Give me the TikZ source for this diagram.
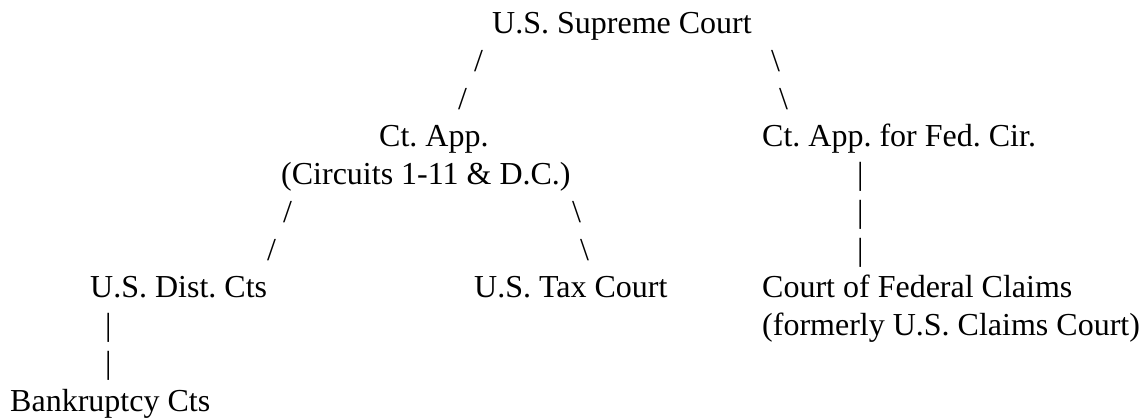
\documentclass[tikz,border=0pt]{standalone}
\usepackage{fontspec}
\setmainfont{Liberation Serif}
\frenchspacing
\begin{document}
\begin{tikzpicture}[x=1pt,y=1pt,
  txt/.style={anchor=base west,inner sep=0pt,font=\fontsize{32}{37.6}\selectfont}]
\useasboundingbox[fill=white] (0,0) rectangle (1143,-418);
% row 1
\node[txt] (sc) at (492,-33) {U.S. Supreme Court};
% rows 2-3
\node[txt] (l2) at (474,-71) {/};
\node[txt] (r2) at (771,-71) {\textbackslash};
\node[txt] (l3) at (458,-109) {/};
\node[txt] (r3) at (779,-109) {\textbackslash};
% rows 4-5
\node[txt] (ca) at (379,-146) {Ct. App.};
\node[txt] (cab) at (281,-184) {(Circuits 1-11 \& D.C.)};
\node[txt] (fc) at (762,-146) {Ct. App. for Fed. Cir.};
\node[txt] (v5) at (857,-184) {|};
% rows 6-7
\node[txt] (l6) at (283,-222) {/};
\node[txt] (r6) at (572,-222) {\textbackslash};
\node[txt] (v6) at (857,-222) {|};
\node[txt] (l7) at (267,-260) {/};
\node[txt] (r7) at (580,-260) {\textbackslash};
\node[txt] (v7) at (857,-260) {|};
% rows 8-10
\node[txt] (dc) at (90,-297) {U.S. Dist. Cts};
\node[txt] (tc) at (474,-297) {U.S. Tax Court};
\node[txt] (cfc) at (762,-297) {Court of Federal Claims};
\node[txt] (cfcb) at (762,-335) {(formerly U.S. Claims Court)};
\node[txt] (v9) at (105,-335) {|};
\node[txt] (v10) at (105,-373) {|};
% row 11
\node[txt] (bk) at (10,-411) {Bankruptcy Cts};
\end{tikzpicture}
\end{document}
